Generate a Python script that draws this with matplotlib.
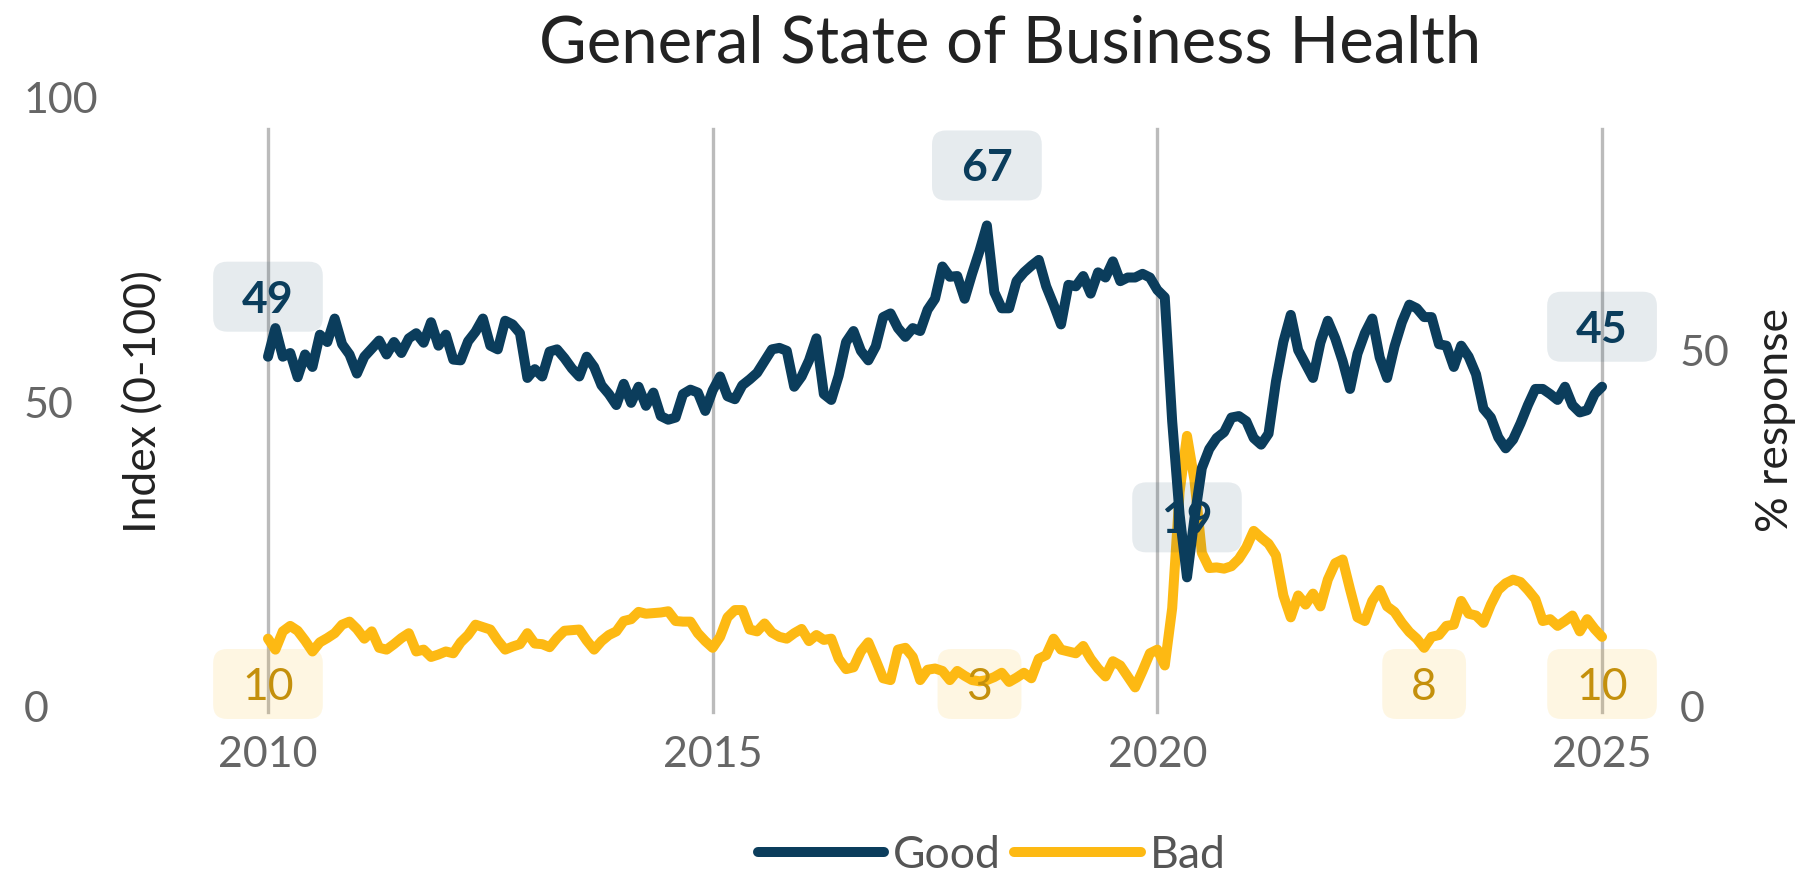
import numpy as np
import matplotlib
matplotlib.use("Agg")
import matplotlib.pyplot as plt
from matplotlib.patches import FancyBboxPatch
from matplotlib.transforms import IdentityTransform, ScaledTranslation

plt.rcParams['font.family'] = ['Lato', 'DejaVu Sans']

# monthly values, Jan 2010 .. Jan 2025
good = [
    49.1, 53.0, 49.1, 49.6, 46.3, 49.4, 47.7, 52.1, 51.1, 54.3, 50.8, 49.4,
    46.8, 49.1, 50.2, 51.3, 49.4, 51.1, 49.6, 51.6, 52.3, 51.0, 53.8, 50.6,
    52.1, 48.7, 48.6, 51.2, 52.5, 54.3, 50.6, 50.1, 54.0, 53.5, 52.3, 46.2,
    47.4, 46.4, 49.8, 50.1, 48.9, 47.5, 46.4, 49.1, 47.7, 45.2, 44.0, 42.5,
    45.4, 42.8, 45.0, 42.4, 44.2, 41.0, 40.5, 40.8, 44.0, 44.6, 44.2, 41.7,
    44.5, 46.4, 43.7, 43.3, 45.2, 46.0, 46.9, 48.5, 50.1, 50.3, 49.9, 45.0,
    46.4, 48.6, 51.6, 44.0, 43.2, 46.5, 51.1, 52.6, 49.9, 48.6, 50.5, 54.5,
    55.0, 53.0, 51.8, 53.0, 52.6, 55.5, 57.0, 61.4, 60.0, 60.1, 57.0, 60.4,
    63.5, 67.0, 57.9, 55.7, 55.7, 59.4, 60.6, 61.5, 62.3, 58.7, 56.2, 53.5,
    58.9, 58.7, 60.1, 57.7, 60.6, 59.9, 62.1, 59.4, 59.9, 59.9, 60.4, 59.9,
    58.2, 57.2, 40.3, 27.6, 19.0, 27.0, 33.9, 36.5, 38.0, 38.8, 40.8, 41.0,
    40.3, 38.0, 37.1, 38.6, 45.7, 51.1, 54.8, 50.0, 48.1, 46.2, 51.0, 54.0,
    51.6, 48.5, 44.7, 49.5, 52.3, 54.3, 49.0, 46.2, 50.5, 53.8, 56.2, 55.7,
    54.5, 54.5, 50.8, 50.6, 47.7, 50.6, 49.1, 46.7, 42.0, 40.8, 38.1, 36.6,
    37.8, 40.0, 42.5, 44.7, 44.7, 44.0, 43.2, 45.0, 42.5, 41.5, 41.8, 44.0,
    45.0,
]
bad = [
    9.9, 8.1, 11.1, 12.0, 11.2, 9.6, 7.8, 9.3, 10.0, 10.8, 12.2, 12.7,
    11.5, 9.9, 11.1, 8.4, 8.1, 9.0, 10.0, 10.8, 7.8, 8.1, 6.9, 7.3,
    7.8, 7.5, 9.3, 10.5, 12.2, 11.8, 11.4, 9.6, 8.1, 8.6, 9.0, 10.8,
    9.1, 9.0, 8.5, 10.0, 11.2, 11.3, 11.4, 9.6, 8.1, 9.5, 10.5, 11.1,
    12.8, 13.1, 14.3, 14.0, 14.1, 14.2, 14.4, 12.8, 12.7, 12.7, 10.8, 9.5,
    8.4, 10.2, 13.4, 14.6, 14.6, 11.4, 11.1, 12.4, 10.9, 10.2, 9.9, 10.8,
    11.5, 9.5, 10.5, 9.7, 9.9, 6.6, 4.9, 5.2, 7.8, 9.3, 6.4, 3.4,
    3.1, 8.1, 8.4, 6.9, 3.1, 4.8, 5.0, 4.6, 3.1, 4.6, 3.8, 3.1,
    2.9, 3.1, 3.6, 4.3, 2.8, 3.5, 4.3, 3.4, 6.6, 7.2, 9.9, 8.1,
    7.8, 7.5, 8.7, 6.6, 5.0, 3.7, 6.2, 5.5, 3.7, 1.9, 4.6, 7.5,
    8.1, 5.5, 14.9, 34.0, 43.2, 36.0, 24.0, 21.5, 21.6, 21.4, 21.8, 23.0,
    24.9, 27.6, 26.5, 25.5, 23.6, 17.0, 13.4, 17.0, 15.5, 17.3, 15.2, 19.6,
    22.3, 22.9, 18.0, 13.4, 12.8, 16.1, 17.9, 15.2, 14.3, 12.5, 11.0, 9.9,
    8.4, 10.2, 10.5, 12.0, 12.2, 16.1, 14.0, 13.7, 12.5, 15.5, 17.9, 19.0,
    19.6, 19.2, 17.9, 16.4, 12.8, 13.1, 12.0, 12.8, 13.7, 11.1, 13.1, 11.5,
    10.2,
]
years = 2010 + np.arange(len(good)) / 12.0

good_marks = [0, 97, 124, 180]
bad_marks = [0, 96, 156, 180]
grid_years = [2010, 2015, 2020, 2025]

NAVY = '#0b3d5c'
GOLD = '#fdb913'
GOLD_TXT = '#c4900c'
TICK = '#666666'
DARK = '#222222'
LW = 7.2

fig = plt.figure(figsize=(18.03, 8.77), dpi=100)
ax = fig.add_axes([0.1109, 0.2030, 0.8098, 0.6944])
ax_r = ax.twinx()
ax_g = ax.twinx()

for a in (ax, ax_r, ax_g):
    for s in a.spines.values():
        s.set_visible(False)
    a.tick_params(length=0)

ax.set_xlim(2009.235, 2025.652)
ax.set_ylim(0, 100)
ax_r.set_ylim(0, 85.5)
ax_g.set_ylim(2.41, 85.48)

for yr in grid_years:
    ax.axvline(yr, ymin=-0.0213, ymax=0.936, color='#bbbbbb', lw=2.4,
               clip_on=False, zorder=0)

ax.plot(years, bad, color=GOLD, lw=LW, solid_joinstyle='round',
        solid_capstyle='round', zorder=3)
ax_g.plot(years, good, color=NAVY, lw=LW, solid_joinstyle='round',
          solid_capstyle='round', zorder=3)

ax.set_xticks(grid_years)
ax.set_xticklabels([str(y) for y in grid_years], fontsize=31, color=TICK)
ax.tick_params(axis='x', pad=27)

shift = ScaledTranslation(0, -8 / 100, fig.dpi_scale_trans)
ax.set_yticks([0, 50, 100])
ax.set_yticklabels(['0', '50', '100'], fontsize=31, color=TICK, ha='left')
ax.tick_params(axis='y', pad=127)
for lab in ax.get_yticklabels():
    lab.set_transform(lab.get_transform() + shift)

ax_r.set_yticks([0, 50])
ax_r.set_yticklabels(['0', '50'], fontsize=31, color=TICK)
ax_r.tick_params(axis='y', pad=14)
for lab in ax_r.get_yticklabels():
    lab.set_transform(lab.get_transform() + shift)

ax_g.set_yticks([])

fig.text(144 / 1803, 0.5416, 'Index (0-100)', rotation=90, ha='center',
         va='center', fontsize=32, color=DARK)
fig.text(1776 / 1803, 0.521, '% response', rotation=90, ha='center',
         va='center', fontsize=32, color=DARK)
fig.text(0.560, 0.929, 'General State of Business Health', ha='center',
         va='baseline', fontsize=47, color=DARK)

renderer = fig.canvas.get_renderer()


def tag(axis, i, series, fg, bg, weight, dy=None, fixed=None):
    x, y = axis.transData.transform((years[i], series[i]))
    if fixed is not None:
        cy = axis.transAxes.transform((0, fixed))[1]
    else:
        cy = y + dy
    fs = 32
    cap = 0.72 * fs * 100 / 72
    t = fig.text(x, cy - cap / 2, f'{series[i]:.0f}', transform=IdentityTransform(),
                 ha='center', va='baseline', fontsize=fs, color=fg,
                 fontweight=weight, zorder=6)
    w = t.get_window_extent(renderer).width + 58
    h = 70
    box = FancyBboxPatch((x - w / 2, cy - h / 2), w, h,
                         boxstyle='round,pad=0,rounding_size=14',
                         transform=IdentityTransform(), fc=bg, ec='none',
                         zorder=5)
    fig.add_artist(box)


for i in good_marks:
    tag(ax_g, i, good, NAVY, (11 / 255, 61 / 255, 92 / 255, 0.1), 'bold', dy=60)
for i in bad_marks:
    tag(ax, i, bad, GOLD_TXT, (253 / 255, 185 / 255, 19 / 255, 0.12), 'normal',
        fixed=0.0246)

h1, = ax.plot([], [], color=NAVY, lw=LW, solid_capstyle='round')
h2, = ax.plot([], [], color=GOLD, lw=LW, solid_capstyle='round')
leg = fig.legend([h1, h2], ['Good', 'Bad'], loc='center',
                 bbox_to_anchor=(0.550, 0.025), ncol=2, frameon=False,
                 fontsize=32, handlelength=2.85, handletextpad=0.2,
                 columnspacing=0.3)
for txt in leg.get_texts():
    txt.set_color('#555555')

fig.savefig('out.png', dpi=100)
